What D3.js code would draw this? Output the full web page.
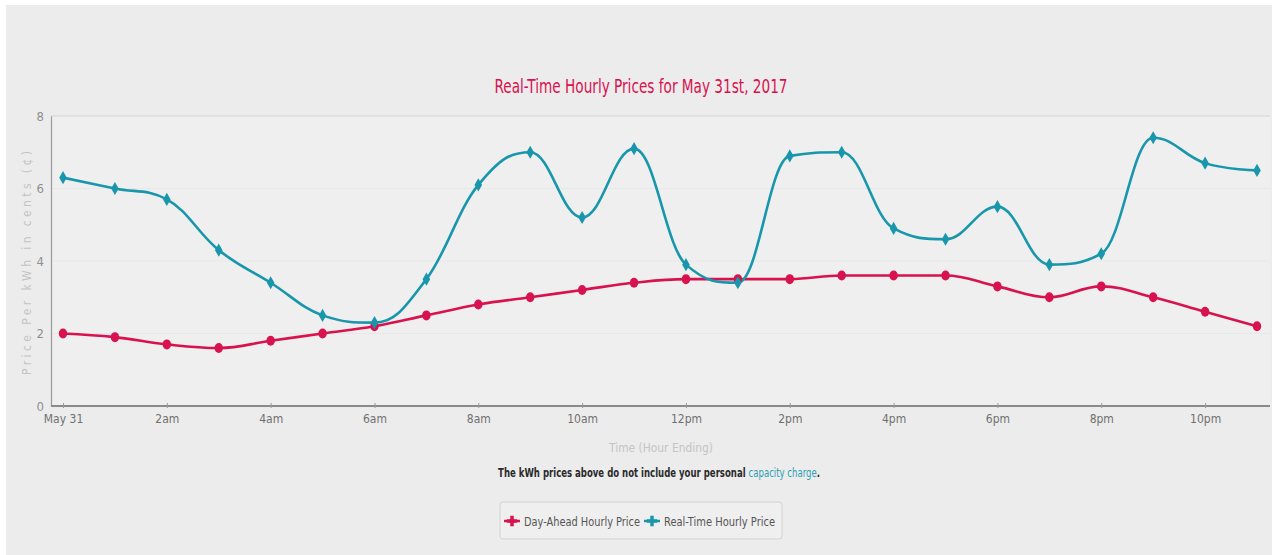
<!DOCTYPE html>
<html>
<head>
<meta charset="utf-8">
<script src="https://cdn.jsdelivr.net/npm/d3@7"></script>
<style>
  html, body { margin: 0; padding: 0; background: #ffffff; }
  svg { display: block; }
  text { font-family: "DejaVu Sans Condensed", "Liberation Sans Narrow", "Roboto", sans-serif; }
</style>
</head>
<body>
<svg id="chart" width="1272" height="555"></svg>
<script>
// Hour-ending index (0 = midnight label "May 31")
const tickHours = [0, 2, 4, 6, 8, 10, 12, 14, 16, 18, 20, 22];
const tickLabels = ["May 31", "2am", "4am", "6am", "8am", "10am", "12pm", "2pm", "4pm", "6pm", "8pm", "10pm"];
const yTicks = [0, 2, 4, 6, 8];

// Prices in cents per kWh
const dayAhead = [2.0, 1.9, 1.7, 1.6, 1.8, 2.0, 2.2, 2.5, 2.8, 3.0, 3.2, 3.4,
                  3.5, 3.5, 3.5, 3.6, 3.6, 3.6, 3.3, 3.0, 3.3, 3.0, 2.6, 2.2];
const realTime = [6.3, 6.0, 5.7, 4.3, 3.4, 2.5, 2.3, 3.5, 6.1, 7.0, 5.2, 7.1,
                  3.9, 3.4, 6.9, 7.0, 4.9, 4.6, 5.5, 3.9, 4.2, 7.4, 6.7, 6.5];

const RED = "#d8124f";
const TEAL = "#1896ab";

// Spline curve: control points at 1.5/2.5 toward neighbours, slope-corrected,
// clamped so the curve does not create false extremes.
function SmoothSpline(context) { this._context = context; }
SmoothSpline.prototype = {
  areaStart() {}, areaEnd() {},
  lineStart() { this._pts = []; },
  point(x, y) { this._pts.push([+x, +y]); },
  lineEnd() {
    const p = this._pts, n = p.length, c = this._context;
    if (!n) return;
    const s = 1.5, den = s + 1;
    const L = [], R = [];
    for (let i = 0; i < n; i++) {
      const [x, y] = p[i];
      if (i === 0 || i === n - 1) { L[i] = [x, y]; R[i] = [x, y]; continue; }
      const [lx, ly] = p[i - 1], [nx, ny] = p[i + 1];
      const lcx = (s * x + lx) / den, rcx = (s * x + nx) / den;
      let lcy = (s * y + ly) / den, rcy = (s * y + ny) / den;
      const corr = ((rcy - lcy) * (rcx - x)) / (rcx - lcx) + y - rcy;
      lcy += corr; rcy += corr;
      if (lcy > ly && lcy > y) { lcy = Math.max(ly, y); rcy = 2 * y - lcy; }
      else if (lcy < ly && lcy < y) { lcy = Math.min(ly, y); rcy = 2 * y - lcy; }
      if (rcy > ny && rcy > y) { rcy = Math.max(ny, y); lcy = 2 * y - rcy; }
      else if (rcy < ny && rcy < y) { rcy = Math.min(ny, y); lcy = 2 * y - rcy; }
      L[i] = [lcx, lcy]; R[i] = [rcx, rcy];
    }
    c.moveTo(p[0][0], p[0][1]);
    for (let i = 1; i < n; i++) {
      c.bezierCurveTo(R[i - 1][0], R[i - 1][1], L[i][0], L[i][1], p[i][0], p[i][1]);
    }
  }
};
const curveSmoothSpline = ctx => new SmoothSpline(ctx);

const svg = d3.select("#chart");

// panel background
svg.append("rect").attr("x", 6).attr("y", 5).attr("width", 1266).attr("height", 550)
  .attr("fill", "#ececec");

const plotL = 51, plotR = 1270, plotT = 116, plotB = 406;

svg.append("rect").attr("x", plotL).attr("y", plotT).attr("width", plotR - plotL).attr("height", plotB - plotT)
  .attr("fill", "#efefef");

const x = d3.scaleLinear().domain([0, 23]).range([63, 1257]);
const y = d3.scaleLinear().domain([0, 8]).range([plotB, plotT]);

// faint horizontal grid
svg.append("g").selectAll("line").data(yTicks.filter(d => d > 0)).join("line")
  .attr("x1", plotL).attr("x2", plotR)
  .attr("y1", d => y(d)).attr("y2", d => y(d))
  .attr("stroke", d => d === 8 ? "#d4d4d4" : "#e8e8e8").attr("stroke-width", 1);

// y axis
const yAxis = svg.append("g").attr("transform", `translate(${plotL},0)`)
  .call(d3.axisLeft(y).tickValues(yTicks).tickSize(0).tickPadding(7));
yAxis.select(".domain").attr("stroke", "#9a9a9a").attr("stroke-width", 1.2);
yAxis.selectAll("text").attr("fill", "#8f8f8f").style("font-size", "13px");

// x axis
const xAxis = svg.append("g").attr("transform", `translate(0,${plotB})`)
  .call(d3.axisBottom(x).tickValues(tickHours).tickFormat((d, i) => tickLabels[i]).tickSize(5).tickPadding(3));
xAxis.select(".domain").attr("d", `M${plotL},0H${plotR}`).attr("stroke", "#8a8a8a").attr("stroke-width", 2);
xAxis.selectAll(".tick line").attr("stroke", "#9a9a9a").attr("transform", "translate(0,-3)");
xAxis.selectAll("text").attr("fill", "#707070").style("font-size", "12px");

// axis titles
svg.append("text").attr("transform", `translate(31,${(plotT + plotB) / 2 + 2}) rotate(-90)`)
  .attr("text-anchor", "middle").attr("fill", "#c4c4c4").style("font-size", "12px")
  .attr("textLength", 224).attr("lengthAdjust", "spacing")
  .text("Price Per kWh in cents (¢)");
svg.append("text").attr("x", 661).attr("y", 452).attr("text-anchor", "middle")
  .attr("fill", "#c4c4c4").style("font-size", "13px")
  .attr("textLength", 104).attr("lengthAdjust", "spacingAndGlyphs").text("Time (Hour Ending)");

// title
svg.append("text").attr("x", 641).attr("y", 93).attr("text-anchor", "middle")
  .attr("fill", RED).style("font-size", "19px")
  .attr("textLength", 293).attr("lengthAdjust", "spacingAndGlyphs")
  .text("Real-Time Hourly Prices for May 31st, 2017");

// note below the axis, set in one condensed line
const note = svg.append("g").attr("transform", "translate(659,477) scale(0.76,1)")
  .append("text").attr("text-anchor", "middle").style("font-size", "12.5px");
note.append("tspan").attr("fill", "#2a2a2a").style("font-weight", "bold")
  .text("The kWh prices above do not include your personal  ");
note.append("tspan").attr("fill", "#2aa0b4").text("capacity charge");
note.append("tspan").attr("fill", "#2a2a2a").style("font-weight", "bold").text(".");

// series
const line = d3.line().x((d, i) => x(i)).y(d => y(d)).curve(curveSmoothSpline);

svg.append("path").datum(dayAhead).attr("d", line)
  .attr("fill", "none").attr("stroke", RED).attr("stroke-width", 2.6);
svg.append("path").datum(realTime).attr("d", line)
  .attr("fill", "none").attr("stroke", TEAL).attr("stroke-width", 2.6);

svg.append("g").selectAll("ellipse").data(dayAhead).join("ellipse")
  .attr("cx", (d, i) => x(i)).attr("cy", d => y(d)).attr("rx", 4.2).attr("ry", 5)
  .attr("fill", RED);

const diamond = d3.symbol().type(d3.symbolDiamond).size(50);
svg.append("g").selectAll("path").data(realTime).join("path")
  .attr("transform", (d, i) => `translate(${x(i)},${y(d)})`)
  .attr("d", diamond).attr("fill", TEAL);

// legend
const lg = svg.append("g").attr("transform", "translate(500,502)");
lg.append("rect").attr("width", 282).attr("height", 37).attr("rx", 3)
  .attr("fill", "#efefef").attr("stroke", "#d2d2d2");
const items = [
  { name: "Day-Ahead Hourly Price", color: RED, x: 4, w: 116 },
  { name: "Real-Time Hourly Price", color: TEAL, x: 144, w: 111 }
];
items.forEach(it => {
  const g = lg.append("g").attr("transform", `translate(${it.x},19)`);
  g.append("line").attr("x1", 0).attr("x2", 16).attr("stroke", it.color).attr("stroke-width", 2.5);
  g.append("path").attr("transform", "translate(8,0)")
    .attr("d", d3.symbol().type(d3.symbolCross).size(60)).attr("fill", it.color);
  g.append("text").attr("x", 20).attr("y", 4.5).attr("fill", "#555").style("font-size", "13px")
    .attr("textLength", it.w).attr("lengthAdjust", "spacingAndGlyphs").text(it.name);
});
</script>
</body>
</html>
